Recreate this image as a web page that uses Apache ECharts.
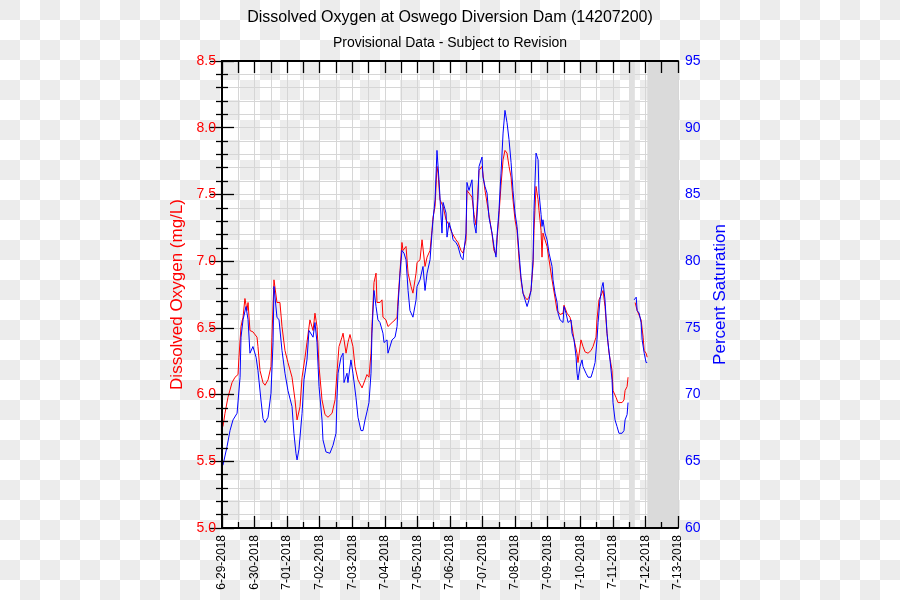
<!DOCTYPE html>
<html>
<head>
<meta charset="utf-8">
<script src="https://cdn.jsdelivr.net/npm/echarts@6/dist/echarts.min.js"></script>
<style>
  html, body { margin: 0; padding: 0; }
  body {
    width: 900px; height: 600px;
    background-color: #fff;
    background-image: conic-gradient(#ffffff 25%, #ececec 0 50%, #ffffff 0 75%, #ececec 0);
    background-size: 40px 40px;
  }
  #chart { width: 900px; height: 600px; }
</style>
</head>
<body>
<div id="chart"></div>
<script>
// x tick labels (one per day, 6-29-2018 00:00 = hour 0)
const dateLabels = ['6-29-2018','6-30-2018','7-01-2018','7-02-2018','7-03-2018','7-04-2018','7-05-2018',
  '7-06-2018','7-07-2018','7-08-2018','7-09-2018','7-10-2018','7-11-2018','7-12-2018','7-13-2018'];

// Dissolved oxygen (mg/L), hours since 6-29-2018 00:00
const doHours = [0.7,2.2,4.4,7.4,9.6,11.8,12.5,14.0,15.5,16.9,
  18.4,19.2,20.6,22.8,25.8,26.5,28.0,30.2,31.7,33.9,
  36.1,36.8,38.3,40.5,42.7,44.2,46.4,48.6,51.6,53.8,
  55.3,57.5,59.0,61.2,62.6,64.8,67.1,68.5,70.0,71.5,
  73.7,75.9,78.1,81.1,83.3,84.7,86.2,88.4,89.2,91.4,
  92.8,94.3,96.5,98.0,100.2,103.2,105.4,106.8,108.3,109.8,
  110.5,112.0,113.5,114.2,116.4,117.9,118.6,120.8,122.3,125.3,
  127.5,129.0,129.7,131.2,132.6,133.4,135.6,137.1,139.3,140.7,
  143.0,143.7,145.9,147.4,149.6,151.1,153.3,154.7,155.5,157.0,
  158.4,159.2,160.6,162.9,165.1,167.3,169.5,172.4,173.9,176.1,
  177.6,179.8,180.5,182.0,184.2,185.7,187.2,189.4,191.6,193.8,
  196.7,199.0,200.4,201.9,204.1,205.6,207.1,208.5,210.0,211.5,
  213.0,214.4,215.9,217.4,218.9,220.3,221.8,223.3,224.8,226.2,
  227.7,229.2,229.9,231.4,232.9,233.6,235.1,235.8,236.5,239.5,
  243.2,246.9,249.1,251.3,252.0,254.2,256.4,257.9,259.4,261.6,
  262.3,264.5,266.0,267.5,269.7,271.9,273.4,275.6,276.3,277.8,
  280.0,280.8,282.2,283.7,285.2,287.4,288.1,290.3,291.8,294.8,
  296.2,297.0,298.5,299.2,
  301.5,
  304.4,305.9,308.8,310.3,311.1,312.5,313.3];
const doValues = [5.76,5.86,5.98,6.09,6.13,6.15,6.28,6.51,6.58,6.72,
  6.63,6.69,6.48,6.47,6.43,6.36,6.18,6.09,6.07,6.11,
  6.21,6.43,6.86,6.69,6.69,6.51,6.33,6.24,6.13,5.96,
  5.81,5.91,6.13,6.28,6.39,6.56,6.48,6.61,6.51,6.21,
  5.96,5.85,5.83,5.86,5.96,6.16,6.36,6.43,6.46,6.31,
  6.39,6.45,6.36,6.21,6.11,6.05,6.11,6.15,6.13,6.31,
  6.51,6.84,6.91,6.69,6.69,6.71,6.58,6.56,6.51,6.54,
  6.56,6.58,6.71,6.93,7.14,7.08,7.11,6.91,6.81,6.76,
  6.91,6.99,7.01,7.16,6.96,7.03,7.08,7.23,7.33,7.41,
  7.71,7.66,7.46,7.41,7.31,7.27,7.21,7.16,7.14,7.08,
  7.06,7.16,7.53,7.51,7.48,7.35,7.27,7.68,7.71,7.53,
  7.35,7.20,7.08,7.05,7.35,7.57,7.76,7.83,7.81,7.71,
  7.63,7.46,7.31,7.23,7.01,6.86,6.76,6.73,6.71,6.73,
  6.78,6.97,7.23,7.56,7.46,7.38,7.23,7.03,7.21,7.11,
  6.86,6.63,6.60,6.61,6.67,6.61,6.58,6.51,6.41,6.31,
  6.24,6.41,6.36,6.32,6.31,6.33,6.36,6.43,6.56,6.71,
  6.76,6.78,6.66,6.46,6.31,6.18,6.03,5.98,5.94,5.94,
  5.96,6.03,6.06,6.13,
  null,
  6.69,6.63,6.56,6.43,6.33,6.31,6.28];

// Percent saturation, hours since 6-29-2018 00:00
const satHours = [0.7,3.7,5.9,8.1,11.1,11.8,13.3,14.0,15.5,17.7,
  19.2,20.6,22.8,25.1,26.5,28.7,30.2,31.7,33.9,36.1,
  37.6,38.3,40.5,42.0,44.2,46.4,48.6,51.6,53.0,54.5,
  55.3,56.7,59.0,60.4,62.6,64.1,67.1,68.5,70.0,71.5,
  73.7,74.4,76.6,79.5,81.8,84.0,84.7,85.5,87.7,89.2,
  89.9,92.1,92.8,95.0,96.5,98.7,100.2,102.4,103.9,105.4,
  106.8,108.3,109.8,110.5,112.0,113.5,114.9,116.4,118.6,119.4,
  121.6,122.3,125.3,127.5,129.0,129.7,131.2,132.6,134.1,135.6,
  137.1,138.5,140.7,143.0,143.7,145.9,148.1,149.6,151.1,153.3,
  154.7,155.5,157.0,158.4,159.9,160.6,162.1,162.9,165.1,165.8,
  167.3,169.5,170.2,172.4,173.9,176.1,177.6,178.3,179.8,180.5,
  182.0,184.2,184.9,185.7,187.2,188.6,189.4,191.6,192.3,193.8,
  195.3,196.7,199.0,200.4,201.9,202.6,204.1,205.6,207.1,208.5,
  210.0,211.5,213.0,214.4,215.9,217.4,218.9,220.3,221.8,223.3,
  224.8,226.2,227.7,229.2,229.9,231.4,232.9,233.6,235.1,235.8,
  236.5,238.0,239.5,241.0,243.2,243.9,245.4,246.9,247.6,249.1,
  251.3,252.0,253.5,255.0,257.2,257.9,259.4,260.9,261.6,262.3,
  263.8,265.3,266.0,268.2,269.7,271.9,273.4,274.9,276.3,277.1,
  278.5,280.0,280.8,282.2,283.7,284.4,285.9,287.4,288.1,289.6,
  291.1,292.5,294.8,296.2,297.0,298.5,299.2,
  301.5,
  303.7,305.2,305.9,307.4,308.8,309.6,311.1,312.5,313.3];
const satValues = [64.7,66.1,67.3,68.1,68.6,68.5,71.3,74.3,75.6,76.6,
  75.6,73.1,73.6,72.8,71.8,69.6,68.2,67.9,68.3,70.1,
  73.9,78.1,75.8,75.6,73.3,71.6,70.3,69.1,67.1,65.6,
  65.1,65.9,68.6,71.1,72.6,74.8,74.3,75.4,73.9,70.6,
  68.1,66.6,65.7,65.6,66.2,67.1,69.6,71.6,72.8,73.1,
  70.9,71.6,70.9,72.6,71.6,69.8,68.3,67.3,67.3,68.1,
  68.7,69.4,71.6,74.6,77.8,76.6,75.6,75.4,74.6,73.9,
  74.1,73.1,74.1,74.3,75.1,76.6,79.1,80.8,80.6,80.1,
  77.8,76.3,75.8,77.1,78.1,78.6,79.6,77.8,79.1,80.1,
  82.1,83.1,84.6,88.3,86.1,84.8,82.1,84.4,83.6,81.8,
  82.9,82.1,81.6,81.4,81.1,80.3,80.1,80.8,82.1,85.9,
  85.3,86.1,84.6,82.9,82.1,84.6,87.1,87.8,86.3,85.6,
  85.1,83.3,82.1,81.1,80.3,81.8,83.8,86.6,89.6,91.3,
  90.4,89.1,87.4,85.3,83.6,82.6,80.6,78.8,77.6,77.1,
  76.6,77.1,77.8,80.1,83.8,88.1,87.6,85.1,83.5,82.6,
  83.1,82.1,81.6,80.6,79.6,78.6,77.6,76.9,76.1,75.6,
  75.4,76.6,76.1,75.4,75.6,74.6,74.1,72.8,71.6,71.1,
  72.1,72.6,72.1,71.6,71.3,71.3,71.8,72.4,74.1,75.4,
  77.1,78.1,78.4,77.1,74.6,73.9,72.6,71.1,69.4,68.1,
  67.6,67.1,67.1,67.3,68.1,68.5,69.4,
  null,
  77.1,77.3,76.3,76.1,75.4,74.1,73.1,72.4,72.4];

// shaded periods (hours): data gap and period after last record
const shadedPeriods = [[300.0, 304.2], [313.4, 336]];

const FONT = 'Liberation Sans, Arial, Helvetica, sans-serif';
const GRID_COLOR = '#d6d6d6';

const chart = echarts.init(document.getElementById('chart'), null, {renderer: 'canvas'});

const tickAxisCommon = {
  z: 5,
  axisLine: {show: true, lineStyle: {color: '#000', width: 2}},
  splitLine: {show: false},
  minorSplitLine: {show: false}
};

chart.setOption({
  animation: false,
  backgroundColor: 'transparent',
  textStyle: {fontFamily: FONT},
  title: [
    {text: 'Dissolved Oxygen at Oswego Diversion Dam (14207200)', left: 'center', top: 5,
     textStyle: {fontFamily: FONT, fontSize: 16, fontWeight: 'normal', color: '#000'}},
    {text: 'Provisional Data - Subject to Revision', left: 'center', top: 31,
     textStyle: {fontFamily: FONT, fontSize: 14, fontWeight: 'normal', color: '#000'}}
  ],
  grid: {left: 222, right: 222, top: 61, bottom: 72, containLabel: false, outerBoundsMode: 'none'},
  xAxis: [
    Object.assign({}, tickAxisCommon, {
      type: 'value', position: 'bottom', min: 0, max: 336, interval: 24,
      axisTick: {show: true, inside: true, length: 12, lineStyle: {color: '#000', width: 1.3}},
      minorTick: {show: true, splitNumber: 2, length: 6, lineStyle: {color: '#000', width: 1.3}},
      axisLabel: {show: true, rotate: 90, margin: 7, fontSize: 12, color: '#000', fontFamily: FONT,
        showMinLabel: true, showMaxLabel: true, hideOverlap: false,
        formatter: v => dateLabels[Math.round(v / 24)] || ''}
    }),
    Object.assign({}, tickAxisCommon, {
      type: 'value', position: 'top', min: 0, max: 336, interval: 12,
      axisTick: {show: true, inside: true, length: 12, lineStyle: {color: '#000', width: 1.3}},
      axisLabel: {show: false}
    }),
    {
      type: 'value', position: 'bottom', min: 0, max: 336, interval: 24, z: 0,
      axisLine: {show: false}, axisTick: {show: false}, axisLabel: {show: false},
      minorTick: {show: false, splitNumber: 2},
      splitLine: {show: true, lineStyle: {color: GRID_COLOR, width: 1}},
      minorSplitLine: {show: true, lineStyle: {color: GRID_COLOR, width: 1}}
    }
  ],
  yAxis: [
    Object.assign({}, tickAxisCommon, {
      type: 'value', position: 'left', min: 5, max: 8.5, interval: 0.5,
      name: 'Dissolved Oxygen (mg/L)', nameLocation: 'middle', nameRotate: 90, nameGap: 30,
      nameTextStyle: {color: '#ff0000', fontSize: 17, fontFamily: FONT},
      axisTick: {show: true, inside: true, length: 12, lineStyle: {color: '#000', width: 1.3}},
      minorTick: {show: true, splitNumber: 5, length: 6, lineStyle: {color: '#000', width: 1.3}},
      axisLabel: {show: true, margin: 6, fontSize: 14, color: '#ff0000', fontFamily: FONT,
        showMinLabel: true, showMaxLabel: true, formatter: v => v.toFixed(1)}
    }),
    Object.assign({}, tickAxisCommon, {
      type: 'value', position: 'right', min: 60, max: 95, interval: 5,
      name: 'Percent Saturation', nameLocation: 'middle', nameRotate: 90, nameGap: 28,
      nameTextStyle: {color: '#0000ff', fontSize: 17, fontFamily: FONT},
      axisTick: {show: true, inside: true, length: 12, lineStyle: {color: '#000', width: 1.3}},
      minorTick: {show: true, splitNumber: 5, length: 6, lineStyle: {color: '#000', width: 1.3}},
      axisLabel: {show: true, margin: 7, fontSize: 14, color: '#0000ff', fontFamily: FONT,
        showMinLabel: true, showMaxLabel: true}
    }),
    {
      type: 'value', position: 'left', min: 5, max: 8.5, interval: 0.5, z: 0,
      axisLine: {show: false}, axisTick: {show: false}, axisLabel: {show: false},
      minorTick: {show: false, splitNumber: 5},
      splitLine: {show: true, lineStyle: {color: GRID_COLOR, width: 1}},
      minorSplitLine: {show: true, lineStyle: {color: GRID_COLOR, width: 1}}
    }
  ],
  series: [
    {
      name: 'Dissolved Oxygen', type: 'line', xAxisIndex: 0, yAxisIndex: 0,
      data: doHours.map((h, i) => [h, doValues[i]]),
      showSymbol: false, symbol: 'none', connectNulls: false,
      lineStyle: {color: '#ff0000', width: 1}, itemStyle: {color: '#ff0000'}, z: 3,
      markArea: {
        silent: true,
        data: [
          [{xAxis: shadedPeriods[0][0], itemStyle: {color: '#e0e0e0'}}, {xAxis: shadedPeriods[0][1]}],
          [{xAxis: shadedPeriods[1][0], itemStyle: {color: '#dadada'}}, {xAxis: shadedPeriods[1][1]}]
        ]
      }
    },
    {
      name: 'Percent Saturation', type: 'line', xAxisIndex: 0, yAxisIndex: 1,
      data: satHours.map((h, i) => [h, satValues[i]]),
      showSymbol: false, symbol: 'none', connectNulls: false,
      lineStyle: {color: '#0000ff', width: 1}, itemStyle: {color: '#0000ff'}, z: 4
    }
  ]
});
</script>
</body>
</html>
